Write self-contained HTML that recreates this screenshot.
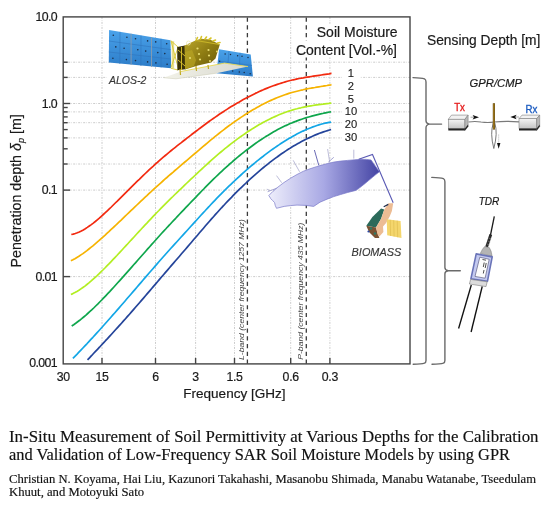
<!DOCTYPE html>
<html><head><meta charset="utf-8"><title>Soil permittivity graphical abstract</title>
<style>html,body{margin:0;padding:0;background:#fff;}body{width:550px;height:507px;overflow:hidden;font-family:"Liberation Sans",sans-serif;}svg{display:block;}</style>
</head><body><div style="will-change:transform;width:550px;height:507px;background:#fff">
<svg width="550" height="507" viewBox="0 0 550 507"><rect x="0" y="0" width="550" height="507" fill="#fff"/>
<g stroke="#cccccc" stroke-width="1" stroke-dasharray="2 1.2 0.6 1.2"><line x1="63.2" y1="62.2" x2="410.0" y2="62.2"/><line x1="63.2" y1="77.4" x2="410.0" y2="77.4"/><line x1="63.2" y1="103.5" x2="410.0" y2="103.5"/><line x1="63.2" y1="111.9" x2="410.0" y2="111.9"/><line x1="63.2" y1="122.7" x2="410.0" y2="122.7"/><line x1="63.2" y1="137.9" x2="410.0" y2="137.9"/><line x1="63.2" y1="164.0" x2="410.0" y2="164.0"/><line x1="63.2" y1="190.1" x2="410.0" y2="190.1"/><line x1="63.2" y1="276.6" x2="410.0" y2="276.6"/><line x1="102.0" y1="16.9" x2="102.0" y2="363.9"/><line x1="155.5" y1="16.9" x2="155.5" y2="363.9"/><line x1="195.6" y1="16.9" x2="195.6" y2="363.9"/><line x1="234.5" y1="16.9" x2="234.5" y2="363.9"/><line x1="290.7" y1="16.9" x2="290.7" y2="363.9"/><line x1="329.9" y1="16.9" x2="329.9" y2="363.9"/></g>
<rect x="237.8" y="218.5" width="8.6" height="140.5" fill="#fff"/><rect x="296.6" y="220.5" width="8.7" height="138.5" fill="#fff"/>
<g stroke="#3a3a3a" stroke-width="1.3" stroke-dasharray="4.2 3.574"><line x1="247.4" y1="17.5" x2="247.4" y2="363.9"/><line x1="306.3" y1="17.5" x2="306.3" y2="363.9"/></g>
<text transform="translate(243.8,360) rotate(-90)" font-family="Liberation Sans, sans-serif" font-style="italic" font-size="8.1" fill="#454545" textLength="140.9" lengthAdjust="spacingAndGlyphs">L-band (center frequency 1257 MHz)</text>
<text transform="translate(302.7,359.8) rotate(-90)" font-family="Liberation Sans, sans-serif" font-style="italic" font-size="8.1" fill="#454545" textLength="137.2" lengthAdjust="spacingAndGlyphs">P-band (center frequency 435 MHz)</text>

<defs>
<linearGradient id="gpan" x1="0" y1="0" x2="0" y2="1"><stop offset="0" stop-color="#4aa2ea"/><stop offset="1" stop-color="#2c7cc8"/></linearGradient>
<linearGradient id="gbody" x1="0" y1="0" x2="1" y2="1"><stop offset="0" stop-color="#bca82a"/><stop offset="0.5" stop-color="#8e7c12"/><stop offset="1" stop-color="#66560a"/></linearGradient>
<linearGradient id="gplate" x1="0" y1="0" x2="1" y2="0"><stop offset="0" stop-color="#f2f2e8"/><stop offset="1" stop-color="#d8d8d0"/></linearGradient>
<linearGradient id="gant" x1="0" y1="0" x2="1" y2="0"><stop offset="0" stop-color="#eeeefb"/><stop offset="0.5" stop-color="#a8a8e4"/><stop offset="1" stop-color="#4444a4"/></linearGradient>
<linearGradient id="gbox" x1="0" y1="0" x2="0" y2="1"><stop offset="0" stop-color="#f4f4f4"/><stop offset="1" stop-color="#c4c4c4"/></linearGradient>
<linearGradient id="gtdr" x1="0" y1="0" x2="1" y2="0"><stop offset="0" stop-color="#8090d0"/><stop offset="1" stop-color="#b8c0e8"/></linearGradient>
</defs>
<polygon points="109.1,30.1 170.5,40.3 171.2,68.3 108.8,62.5" fill="url(#gpan)"/>
<g stroke="#2f74bc" stroke-width="0.6" fill="none">
<line x1="108.9" y1="41" x2="170.7" y2="49.6"/><line x1="108.8" y1="52" x2="170.9" y2="59"/>
<line x1="120" y1="31.8" x2="119.8" y2="64"/><line x1="141" y1="35.6" x2="140.9" y2="66"/><line x1="161" y1="38.8" x2="161.1" y2="67.5"/>
</g>
<g stroke="#8a9cae" stroke-width="0.9"><line x1="131.1" y1="33.7" x2="131.1" y2="65"/><line x1="151.5" y1="37.3" x2="151.5" y2="66.9"/></g>
<g fill="#1c2c44"><circle cx="113.3" cy="35.2" r="0.8"/><circle cx="126.9" cy="37.3" r="0.8"/><circle cx="135.5" cy="38.7" r="0.8"/><circle cx="147.6" cy="40.9" r="0.8"/><circle cx="155.7" cy="41.9" r="0.8"/><circle cx="166.7" cy="43.8" r="0.8"/><circle cx="115.8" cy="46.9" r="0.8"/><circle cx="124.1" cy="48.2" r="0.8"/><circle cx="137.8" cy="49.8" r="0.8"/><circle cx="145.7" cy="51.1" r="0.8"/><circle cx="157.8" cy="52.6" r="0.8"/><circle cx="164.8" cy="53.6" r="0.8"/><circle cx="112.9" cy="58.3" r="0.8"/><circle cx="126.4" cy="59.6" r="0.8"/><circle cx="135.5" cy="60.6" r="0.8"/><circle cx="147.6" cy="61.9" r="0.8"/><circle cx="155.9" cy="62.9" r="0.8"/><circle cx="167.1" cy="64.2" r="0.8"/></g>
<polygon points="219.1,49.2 250.7,54.6 252.9,76.5 216.4,73.2" fill="url(#gpan)"/>
<g stroke="#2f74bc" stroke-width="0.6"><line x1="229" y1="51" x2="227" y2="74"/><line x1="240" y1="52.8" x2="239" y2="75"/><line x1="218" y1="61" x2="252" y2="65.5"/></g>
<g fill="#1c2c44"><circle cx="225.1" cy="54.1" r="0.75"/><circle cx="230.5" cy="54.6" r="0.75"/><circle cx="237.6" cy="55.7" r="0.75"/><circle cx="242" cy="56.3" r="0.75"/><circle cx="248" cy="57.4" r="0.75"/><circle cx="232.7" cy="71" r="0.75"/><circle cx="239.3" cy="72.1" r="0.75"/><circle cx="244.2" cy="72.6" r="0.75"/><circle cx="250.2" cy="73.7" r="0.75"/><circle cx="219.6" cy="61.2" r="0.75"/></g>
<rect x="171.2" y="41" width="3.2" height="27.5" fill="#f4f0d8"/>
<g stroke="#d8c830" stroke-width="0.9" fill="none"><path d="M170.8,40.6 L178,47 M171,68.3 L178,70 M171,41 L178.5,69 M171,67.5 L178,47.5 M173,41.5 L173,68"/></g>
<polygon points="177.2,47 185,45.4 185.3,69.2 177.4,70.3" fill="#3a3208"/>
<polygon points="184.5,45.5 190,43 196,40.2 201,38.8 210,39.5 219.8,44.5 215.5,58.5 211,62.5 198,65.5 185,69.5" fill="url(#gbody)"/>
<polygon points="185,52 192,50 196,60 194,66 185,69.2" fill="#b8a424" opacity="0.7"/>
<g fill="#e8dc70"><circle cx="197.5" cy="48.5" r="1.1"/><circle cx="208.5" cy="50" r="1.1"/><circle cx="199" cy="54" r="1.1"/><circle cx="209" cy="55.5" r="1.1"/><circle cx="190" cy="58" r="1.1"/><circle cx="200" cy="59.5" r="1.1"/><circle cx="210" cy="61" r="1"/><circle cx="217" cy="51.5" r="1"/></g>
<path d="M196,40.5 L197.5,37.5 M200.5,39 L201.5,36.5 M205,39 L206.5,37 M209,39.5 L211,38 M213,41 L215.5,40 M217.5,43 L220,42.5" stroke="#d8c428" stroke-width="1.6" stroke-linecap="round"/>
<path d="M196,40.5 L219.5,44.5" stroke="#c8b428" stroke-width="1.2"/>
<circle cx="188.5" cy="43" r="2" fill="none" stroke="#efe8b0" stroke-width="0.8"/>
<path d="M181.5,47 L181.5,70 M178,60 L185,66 M178,50 L185,56" stroke="#d0b828" stroke-width="1"/>
<polygon points="163.6,77.7 181,71.5 224.5,63.1 248,66.6 216.4,73.2 176,78.8" fill="url(#gplate)"/>
<path d="M181,71.5 L224.5,63.1 L248,66.6" stroke="#e8d850" stroke-width="0.9" fill="none"/>
<path d="M163.6,77.7 L176,78.8 L216.4,73.2" stroke="#c8c8b0" stroke-width="0.5" fill="none"/>
<g stroke="#c0a820" stroke-width="1.2"><line x1="180" y1="69" x2="180.5" y2="75"/><line x1="196" y1="66" x2="196.5" y2="71"/><line x1="208" y1="65" x2="208.5" y2="69"/></g>
<rect x="106.5" y="72.5" width="44" height="14" fill="#fff"/>
<text x="109" y="83.8" font-family="Liberation Sans, sans-serif" font-style="italic" font-size="11" fill="#383838" stroke="#383838" stroke-width="0.15" textLength="37.3" lengthAdjust="spacingAndGlyphs">ALOS-2</text>


<g stroke="#a0a0c8" stroke-width="0.7">
<line x1="314.4" y1="150" x2="318.8" y2="165.4" stroke="#6a6ab4" stroke-width="1"/>
<line x1="293.2" y1="160.3" x2="299.6" y2="171.8"/>
<line x1="276.5" y1="175.6" x2="281.7" y2="182.7"/>
<line x1="353.8" y1="149.7" x2="353.8" y2="158.6"/>
<line x1="327.6" y1="149" x2="329.7" y2="162.1"/>
<line x1="328.3" y1="162.1" x2="333.8" y2="157.3" stroke="#8080c0"/>
<line x1="267.6" y1="191.7" x2="277.8" y2="187.8" stroke="#8080c0"/>
<line x1="266.9" y1="189.1" x2="269.5" y2="190.5"/>
</g>
<path d="M268.8,195.5 L273,191.3 L277.8,187.2 L284,182.5 L290.6,178.2 L297,174.5 L303.5,171.2 L310,168.8 L316.3,166.7 L320,165.6 L327,163.7 L333.8,162.1 L340.5,161.1 L347.6,160.4 L354.5,159.8 L361.4,159.3 L366.5,159.4 L371.1,160 L375.3,165.9 L379.4,171.8 L375.8,174.6 L372.5,177.3 L368.3,180.8 L364.2,184.2 L360,187.5 L355.9,190.4 L347.6,192.5 L340.7,194.5 L333.8,196.6 L327,199.2 L320,202.2 L313.7,206.4 L306,205.4 L297,205.1 L290.5,205.6 L284.2,206.4 L276.5,208.3 L275.2,205.3 L274.6,202.6 L272.6,200.5 L270.8,198.7 Z" fill="url(#gant)" stroke="#7878c8" stroke-width="0.7" stroke-linejoin="round"/>
<path d="M358.7,159.3 L372.5,154.5 L393.2,202.8" stroke="#5a5ab4" stroke-width="1.1" fill="none"/>
<polygon points="381.1,208.4 384.3,209.5 381.1,218.8 376,227.5 366.3,225.8 372.4,217.1" fill="#2b6a5a"/>
<polygon points="366.3,225.8 376,227.5 378,234.5 379.4,238 375,238 369,232" fill="#7a5232"/>
<g fill="#2e7a66"><circle cx="371" cy="228.5" r="1.3"/><circle cx="375" cy="233.5" r="1.2"/></g>
<polygon points="388.5,203.3 393.2,203.2 391.9,211 389.8,216.2 385.9,223.2 383,226.6 383.4,232 379.4,236.4 377.6,234.5 376,227.5 381.1,218.8 384.3,209.5" fill="#ecbc94"/>
<path d="M383.7,206.7 L388.3,204.4" stroke="#1e2a48" stroke-width="1.2"/>
<polygon points="386.7,219.3 400.6,221 401.5,237.9 387.2,235.3" fill="#f4d66c"/>
<g stroke="#dcb84c" stroke-width="0.6"><line x1="390.2" y1="219.8" x2="390.6" y2="236"/><line x1="393.7" y1="220.2" x2="394.1" y2="236.6"/><line x1="397.2" y1="220.6" x2="397.7" y2="237.3"/></g>
<circle cx="368.5" cy="231.5" r="1.1" fill="#2848a8"/>
<text x="351.6" y="256.3" font-family="Liberation Sans, sans-serif" font-style="italic" font-size="11.3" fill="#383838" stroke="#383838" stroke-width="0.15" textLength="49.6" lengthAdjust="spacingAndGlyphs">BIOMASS</text>

<path d="M71.3,234.5 L73.3,234.1 L75.3,233.5 L77.3,232.8 L79.3,232.0 L81.3,231.0 L83.3,229.9 L85.3,228.7 L87.3,227.4 L89.3,226.0 L91.3,224.6 L93.3,223.1 L95.3,221.5 L97.3,219.8 L99.3,218.1 L101.3,216.3 L103.3,214.5 L105.3,212.7 L107.3,210.8 L109.3,208.9 L111.3,207.0 L113.3,205.0 L115.3,203.0 L117.3,201.1 L119.3,199.1 L121.3,197.1 L123.3,195.1 L125.3,193.1 L127.3,191.1 L129.3,189.1 L131.3,187.1 L133.3,185.1 L135.3,183.2 L137.3,181.2 L139.3,179.3 L141.3,177.3 L143.3,175.4 L145.3,173.5 L147.3,171.6 L149.3,169.7 L151.3,167.9 L153.3,166.1 L155.3,164.2 L157.3,162.5 L159.3,160.7 L161.3,158.9 L163.3,157.2 L165.3,155.5 L167.3,153.8 L169.3,152.2 L171.3,150.5 L173.3,148.9 L175.3,147.3 L177.3,145.7 L179.3,144.1 L181.3,142.6 L183.3,141.0 L185.3,139.5 L187.3,137.9 L189.3,136.4 L191.3,134.8 L193.3,133.3 L195.3,131.8 L197.3,130.3 L199.3,128.7 L201.3,127.2 L203.3,125.7 L205.3,124.3 L207.3,122.8 L209.3,121.3 L211.3,119.9 L213.3,118.5 L215.3,117.1 L217.3,115.7 L219.3,114.3 L221.3,113.0 L223.3,111.7 L225.3,110.4 L227.3,109.1 L229.3,107.8 L231.3,106.6 L233.3,105.4 L235.3,104.2 L237.3,103.0 L239.3,101.9 L241.3,100.7 L243.3,99.6 L245.3,98.5 L247.3,97.5 L249.3,96.4 L251.3,95.4 L253.3,94.4 L255.3,93.4 L257.3,92.5 L259.3,91.5 L261.3,90.6 L263.3,89.8 L265.3,88.9 L267.3,88.1 L269.3,87.3 L271.3,86.5 L273.3,85.8 L275.3,85.1 L277.3,84.4 L279.3,83.7 L281.3,83.1 L283.3,82.5 L285.3,81.9 L287.3,81.3 L289.3,80.8 L291.3,80.3 L293.3,79.8 L295.3,79.4 L297.3,78.9 L299.3,78.5 L301.3,78.1 L303.3,77.8 L305.3,77.4 L307.3,77.1 L309.3,76.8 L311.3,76.5 L313.3,76.2 L315.3,75.9 L317.3,75.6 L319.3,75.3 L321.3,75.0 L323.3,74.7 L325.3,74.4 L327.3,74.1 L329.3,73.8 L331.3,73.4 L331.5,73.4" fill="none" stroke="#f22a10" stroke-width="1.7" stroke-linecap="butt" stroke-linejoin="round"/>
<path d="M70.9,260.8 L72.9,259.8 L74.9,258.7 L76.9,257.5 L78.9,256.3 L80.9,254.9 L82.9,253.6 L84.9,252.1 L86.9,250.6 L88.9,249.0 L90.9,247.4 L92.9,245.8 L94.9,244.1 L96.9,242.4 L98.9,240.7 L100.9,238.9 L102.9,237.1 L104.9,235.3 L106.9,233.4 L108.9,231.6 L110.9,229.7 L112.9,227.8 L114.9,226.0 L116.9,224.1 L118.9,222.2 L120.9,220.3 L122.9,218.3 L124.9,216.4 L126.9,214.5 L128.9,212.6 L130.9,210.7 L132.9,208.8 L134.9,206.9 L136.9,205.0 L138.9,203.1 L140.9,201.2 L142.9,199.3 L144.9,197.4 L146.9,195.6 L148.9,193.7 L150.9,191.9 L152.9,190.0 L154.9,188.2 L156.9,186.4 L158.9,184.6 L160.9,182.8 L162.9,181.0 L164.9,179.2 L166.9,177.5 L168.9,175.7 L170.9,174.0 L172.9,172.3 L174.9,170.5 L176.9,168.8 L178.9,167.1 L180.9,165.4 L182.9,163.7 L184.9,162.0 L186.9,160.3 L188.9,158.6 L190.9,156.9 L192.9,155.2 L194.9,153.5 L196.9,151.8 L198.9,150.1 L200.9,148.3 L202.9,146.6 L204.9,145.0 L206.9,143.3 L208.9,141.6 L210.9,139.9 L212.9,138.3 L214.9,136.7 L216.9,135.1 L218.9,133.5 L220.9,131.9 L222.9,130.4 L224.9,128.8 L226.9,127.3 L228.9,125.8 L230.9,124.4 L232.9,122.9 L234.9,121.5 L236.9,120.1 L238.9,118.8 L240.9,117.4 L242.9,116.1 L244.9,114.8 L246.9,113.5 L248.9,112.3 L250.9,111.0 L252.9,109.8 L254.9,108.7 L256.9,107.5 L258.9,106.4 L260.9,105.3 L262.9,104.3 L264.9,103.3 L266.9,102.3 L268.9,101.3 L270.9,100.4 L272.9,99.5 L274.9,98.6 L276.9,97.8 L278.9,97.0 L280.9,96.2 L282.9,95.5 L284.9,94.8 L286.9,94.1 L288.9,93.4 L290.9,92.8 L292.9,92.2 L294.9,91.7 L296.9,91.2 L298.9,90.7 L300.9,90.2 L302.9,89.8 L304.9,89.3 L306.9,88.9 L308.9,88.5 L310.9,88.2 L312.9,87.8 L314.9,87.5 L316.9,87.1 L318.9,86.8 L320.9,86.5 L322.9,86.2 L324.9,85.8 L326.9,85.5 L328.9,85.1 L330.9,84.8 L331.5,84.6" fill="none" stroke="#f6b300" stroke-width="1.7" stroke-linecap="butt" stroke-linejoin="round"/>
<path d="M70.9,294.5 L72.9,293.6 L74.9,292.6 L76.9,291.5 L78.9,290.3 L80.9,288.9 L82.9,287.5 L84.9,286.1 L86.9,284.5 L88.9,282.9 L90.9,281.2 L92.9,279.4 L94.9,277.6 L96.9,275.8 L98.9,273.9 L100.9,271.9 L102.9,270.0 L104.9,268.0 L106.9,265.9 L108.9,263.9 L110.9,261.8 L112.9,259.7 L114.9,257.6 L116.9,255.5 L118.9,253.3 L120.9,251.2 L122.9,249.0 L124.9,246.8 L126.9,244.7 L128.9,242.5 L130.9,240.3 L132.9,238.2 L134.9,236.0 L136.9,233.8 L138.9,231.6 L140.9,229.5 L142.9,227.3 L144.9,225.2 L146.9,223.1 L148.9,220.9 L150.9,218.8 L152.9,216.7 L154.9,214.6 L156.9,212.5 L158.9,210.5 L160.9,208.4 L162.9,206.4 L164.9,204.4 L166.9,202.4 L168.9,200.4 L170.9,198.4 L172.9,196.5 L174.9,194.5 L176.9,192.6 L178.9,190.7 L180.9,188.8 L182.9,186.9 L184.9,184.9 L186.9,183.0 L188.9,181.1 L190.9,179.2 L192.9,177.4 L194.9,175.5 L196.9,173.6 L198.9,171.7 L200.9,169.8 L202.9,168.0 L204.9,166.1 L206.9,164.3 L208.9,162.5 L210.9,160.7 L212.9,158.9 L214.9,157.1 L216.9,155.4 L218.9,153.7 L220.9,152.0 L222.9,150.3 L224.9,148.7 L226.9,147.1 L228.9,145.5 L230.9,143.9 L232.9,142.4 L234.9,140.9 L236.9,139.4 L238.9,137.9 L240.9,136.5 L242.9,135.1 L244.9,133.7 L246.9,132.3 L248.9,131.0 L250.9,129.7 L252.9,128.4 L254.9,127.2 L256.9,126.0 L258.9,124.8 L260.9,123.7 L262.9,122.5 L264.9,121.5 L266.9,120.4 L268.9,119.4 L270.9,118.4 L272.9,117.5 L274.9,116.6 L276.9,115.7 L278.9,114.8 L280.9,114.0 L282.9,113.2 L284.9,112.5 L286.9,111.8 L288.9,111.1 L290.9,110.5 L292.9,109.9 L294.9,109.3 L296.9,108.8 L298.9,108.2 L300.9,107.8 L302.9,107.3 L304.9,106.9 L306.9,106.5 L308.9,106.1 L310.9,105.8 L312.9,105.5 L314.9,105.2 L316.9,104.9 L318.9,104.6 L320.9,104.3 L322.9,104.1 L324.9,103.8 L326.9,103.6 L328.9,103.4 L330.9,103.1 L331.3,103.1" fill="none" stroke="#b2ee22" stroke-width="1.7" stroke-linecap="butt" stroke-linejoin="round"/>
<path d="M71.7,326.0 L73.7,324.7 L75.7,323.3 L77.7,321.8 L79.7,320.3 L81.7,318.7 L83.7,317.0 L85.7,315.3 L87.7,313.5 L89.7,311.7 L91.7,309.9 L93.7,308.0 L95.7,306.0 L97.7,304.1 L99.7,302.0 L101.7,300.0 L103.7,297.9 L105.7,295.8 L107.7,293.7 L109.7,291.6 L111.7,289.4 L113.7,287.2 L115.7,285.0 L117.7,282.8 L119.7,280.6 L121.7,278.4 L123.7,276.1 L125.7,273.9 L127.7,271.6 L129.7,269.4 L131.7,267.1 L133.7,264.8 L135.7,262.6 L137.7,260.3 L139.7,258.0 L141.7,255.7 L143.7,253.5 L145.7,251.2 L147.7,248.9 L149.7,246.7 L151.7,244.4 L153.7,242.2 L155.7,240.0 L157.7,237.7 L159.7,235.5 L161.7,233.3 L163.7,231.1 L165.7,229.0 L167.7,226.8 L169.7,224.7 L171.7,222.5 L173.7,220.4 L175.7,218.3 L177.7,216.1 L179.7,214.0 L181.7,211.9 L183.7,209.8 L185.7,207.7 L187.7,205.6 L189.7,203.5 L191.7,201.4 L193.7,199.4 L195.7,197.3 L197.7,195.2 L199.7,193.1 L201.7,191.0 L203.7,189.0 L205.7,186.9 L207.7,184.9 L209.7,182.9 L211.7,180.9 L213.7,178.9 L215.7,177.0 L217.7,175.1 L219.7,173.2 L221.7,171.3 L223.7,169.4 L225.7,167.6 L227.7,165.8 L229.7,164.0 L231.7,162.3 L233.7,160.5 L235.7,158.8 L237.7,157.2 L239.7,155.5 L241.7,153.9 L243.7,152.3 L245.7,150.7 L247.7,149.2 L249.7,147.7 L251.7,146.2 L253.7,144.7 L255.7,143.3 L257.7,141.9 L259.7,140.5 L261.7,139.2 L263.7,137.9 L265.7,136.6 L267.7,135.4 L269.7,134.2 L271.7,133.0 L273.7,131.8 L275.7,130.7 L277.7,129.6 L279.7,128.6 L281.7,127.6 L283.7,126.6 L285.7,125.6 L287.7,124.7 L289.7,123.8 L291.7,123.0 L293.7,122.1 L295.7,121.4 L297.7,120.6 L299.7,119.9 L301.7,119.2 L303.7,118.5 L305.7,117.9 L307.7,117.3 L309.7,116.7 L311.7,116.1 L313.7,115.6 L315.7,115.1 L317.7,114.6 L319.7,114.1 L321.7,113.7 L323.7,113.2 L325.7,112.8 L327.7,112.4 L329.7,112.0 L331.1,111.8" fill="none" stroke="#0ea64c" stroke-width="1.7" stroke-linecap="butt" stroke-linejoin="round"/>
<path d="M72.9,358.3 L74.9,356.3 L76.9,354.3 L78.9,352.2 L80.9,350.1 L82.9,348.0 L84.9,345.9 L86.9,343.8 L88.9,341.6 L90.9,339.4 L92.9,337.3 L94.9,335.1 L96.9,332.9 L98.9,330.7 L100.9,328.5 L102.9,326.2 L104.9,324.0 L106.9,321.7 L108.9,319.5 L110.9,317.2 L112.9,314.9 L114.9,312.7 L116.9,310.4 L118.9,308.1 L120.9,305.8 L122.9,303.5 L124.9,301.2 L126.9,298.8 L128.9,296.5 L130.9,294.2 L132.9,291.9 L134.9,289.6 L136.9,287.2 L138.9,284.9 L140.9,282.6 L142.9,280.3 L144.9,277.9 L146.9,275.6 L148.9,273.3 L150.9,271.0 L152.9,268.7 L154.9,266.4 L156.9,264.1 L158.9,261.8 L160.9,259.5 L162.9,257.3 L164.9,255.0 L166.9,252.8 L168.9,250.5 L170.9,248.3 L172.9,246.1 L174.9,243.9 L176.9,241.7 L178.9,239.5 L180.9,237.3 L182.9,235.1 L184.9,232.9 L186.9,230.7 L188.9,228.5 L190.9,226.3 L192.9,224.1 L194.9,221.9 L196.9,219.7 L198.9,217.5 L200.9,215.3 L202.9,213.1 L204.9,211.0 L206.9,208.8 L208.9,206.7 L210.9,204.5 L212.9,202.4 L214.9,200.3 L216.9,198.2 L218.9,196.2 L220.9,194.2 L222.9,192.1 L224.9,190.2 L226.9,188.2 L228.9,186.2 L230.9,184.3 L232.9,182.4 L234.9,180.5 L236.9,178.7 L238.9,176.8 L240.9,175.0 L242.9,173.2 L244.9,171.4 L246.9,169.7 L248.9,167.9 L250.9,166.2 L252.9,164.5 L254.9,162.9 L256.9,161.2 L258.9,159.6 L260.9,158.0 L262.9,156.5 L264.9,154.9 L266.9,153.4 L268.9,151.9 L270.9,150.4 L272.9,149.0 L274.9,147.6 L276.9,146.2 L278.9,144.9 L280.9,143.5 L282.9,142.2 L284.9,141.0 L286.9,139.8 L288.9,138.6 L290.9,137.4 L292.9,136.3 L294.9,135.2 L296.9,134.1 L298.9,133.1 L300.9,132.1 L302.9,131.1 L304.9,130.2 L306.9,129.3 L308.9,128.5 L310.9,127.7 L312.9,126.9 L314.9,126.2 L316.9,125.5 L318.9,124.9 L320.9,124.3 L322.9,123.7 L324.9,123.2 L326.9,122.8 L328.9,122.4 L330.9,122.1 L331.1,122.0" fill="none" stroke="#12a6e6" stroke-width="1.7" stroke-linecap="butt" stroke-linejoin="round"/>
<path d="M87.5,359.9 L89.5,357.8 L91.5,355.7 L93.5,353.5 L95.5,351.4 L97.5,349.3 L99.5,347.2 L101.5,345.0 L103.5,342.9 L105.5,340.7 L107.5,338.6 L109.5,336.4 L111.5,334.2 L113.5,332.0 L115.5,329.8 L117.5,327.6 L119.5,325.4 L121.5,323.2 L123.5,320.9 L125.5,318.7 L127.5,316.4 L129.5,314.2 L131.5,311.9 L133.5,309.6 L135.5,307.3 L137.5,305.0 L139.5,302.7 L141.5,300.4 L143.5,298.1 L145.5,295.7 L147.5,293.4 L149.5,291.1 L151.5,288.7 L153.5,286.4 L155.5,284.1 L157.5,281.7 L159.5,279.4 L161.5,277.0 L163.5,274.7 L165.5,272.4 L167.5,270.1 L169.5,267.7 L171.5,265.4 L173.5,263.1 L175.5,260.8 L177.5,258.5 L179.5,256.2 L181.5,253.8 L183.5,251.5 L185.5,249.2 L187.5,246.9 L189.5,244.5 L191.5,242.2 L193.5,239.8 L195.5,237.5 L197.5,235.2 L199.5,232.8 L201.5,230.5 L203.5,228.2 L205.5,225.8 L207.5,223.5 L209.5,221.2 L211.5,218.9 L213.5,216.7 L215.5,214.4 L217.5,212.2 L219.5,210.0 L221.5,207.8 L223.5,205.7 L225.5,203.5 L227.5,201.4 L229.5,199.3 L231.5,197.3 L233.5,195.2 L235.5,193.2 L237.5,191.2 L239.5,189.2 L241.5,187.3 L243.5,185.4 L245.5,183.5 L247.5,181.6 L249.5,179.7 L251.5,177.9 L253.5,176.1 L255.5,174.3 L257.5,172.6 L259.5,170.9 L261.5,169.2 L263.5,167.5 L265.5,165.9 L267.5,164.3 L269.5,162.7 L271.5,161.1 L273.5,159.6 L275.5,158.1 L277.5,156.7 L279.5,155.2 L281.5,153.8 L283.5,152.5 L285.5,151.1 L287.5,149.8 L289.5,148.6 L291.5,147.3 L293.5,146.1 L295.5,144.9 L297.5,143.8 L299.5,142.7 L301.5,141.6 L303.5,140.5 L305.5,139.5 L307.5,138.5 L309.5,137.6 L311.5,136.7 L313.5,135.8 L315.5,134.9 L317.5,134.1 L319.5,133.3 L321.5,132.6 L323.5,131.9 L325.5,131.2 L327.5,130.6 L329.5,130.0 L331.1,129.5" fill="none" stroke="#24449a" stroke-width="1.7" stroke-linecap="butt" stroke-linejoin="round"/>
<g stroke="#444" stroke-width="1.4"><rect x="63.2" y="16.9" width="346.8" height="347.0" fill="none" stroke="#444" stroke-width="1.4"/><line x1="63.2" y1="103.5" x2="70.2" y2="103.5"/><line x1="63.2" y1="190.1" x2="70.2" y2="190.1"/><line x1="63.2" y1="276.6" x2="70.2" y2="276.6"/><line x1="63.2" y1="62.2" x2="67.7" y2="62.2"/><line x1="63.2" y1="77.4" x2="67.7" y2="77.4"/><line x1="63.2" y1="107.5" x2="67.7" y2="107.5"/><line x1="63.2" y1="111.9" x2="67.7" y2="111.9"/><line x1="63.2" y1="116.9" x2="67.7" y2="116.9"/><line x1="63.2" y1="122.7" x2="67.7" y2="122.7"/><line x1="63.2" y1="129.6" x2="67.7" y2="129.6"/><line x1="63.2" y1="137.9" x2="67.7" y2="137.9"/><line x1="63.2" y1="148.8" x2="67.7" y2="148.8"/><line x1="63.2" y1="164.0" x2="67.7" y2="164.0"/><line x1="102.0" y1="363.9" x2="102.0" y2="357.9"/><line x1="155.5" y1="363.9" x2="155.5" y2="357.9"/><line x1="195.6" y1="363.9" x2="195.6" y2="357.9"/><line x1="234.5" y1="363.9" x2="234.5" y2="357.9"/><line x1="290.7" y1="363.9" x2="290.7" y2="357.9"/><line x1="329.9" y1="363.9" x2="329.9" y2="357.9"/></g>
<g font-family="Liberation Sans, sans-serif" font-size="12.3" fill="#1a1a1a" stroke="#1a1a1a" stroke-width="0.2"><text x="57" y="21.3" text-anchor="end" letter-spacing="-0.6">10.0</text><text x="57" y="107.8" text-anchor="end" letter-spacing="-0.6">1.0</text><text x="57" y="194.4" text-anchor="end" letter-spacing="-0.6">0.1</text><text x="57" y="280.9" text-anchor="end" letter-spacing="-0.6">0.01</text><text x="57" y="367.4" text-anchor="end" letter-spacing="-0.6">0.001</text><text x="63.3" y="380.5" text-anchor="middle" letter-spacing="-0.3">30</text><text x="102.0" y="380.5" text-anchor="middle" letter-spacing="-0.3">15</text><text x="155.5" y="380.5" text-anchor="middle" letter-spacing="-0.3">6</text><text x="195.6" y="380.5" text-anchor="middle" letter-spacing="-0.3">3</text><text x="234.5" y="380.5" text-anchor="middle" letter-spacing="-0.3">1.5</text><text x="290.7" y="380.5" text-anchor="middle" letter-spacing="-0.3">0.6</text><text x="329.9" y="380.5" text-anchor="middle" letter-spacing="-0.3">0.3</text></g>
<text x="183.3" y="397.7" font-family="Liberation Sans, sans-serif" font-size="13.5" fill="#1a1a1a" stroke="#1a1a1a" stroke-width="0.2" textLength="102.2" lengthAdjust="spacingAndGlyphs">Frequency [GHz]</text>
<text transform="translate(21.3,267.5) rotate(-90)" font-family="Liberation Sans, sans-serif" font-size="14" fill="#1a1a1a" stroke="#1a1a1a" stroke-width="0.2" textLength="153.3" lengthAdjust="spacingAndGlyphs">Penetration depth <tspan font-style="italic">δ</tspan><tspan font-style="italic" font-size="9" dy="2.5">p</tspan><tspan dy="-2.5"> [m]</tspan></text>
<rect x="313" y="24" width="88" height="16.5" fill="#fff"/><rect x="293" y="41" width="108" height="16.5" fill="#fff"/>
<text x="316.8" y="36.8" font-family="Liberation Sans, sans-serif" font-size="14" fill="#1a1a1a" stroke="#1a1a1a" stroke-width="0.2" textLength="80.8" lengthAdjust="spacingAndGlyphs">Soil Moisture</text>
<text x="296" y="55" font-family="Liberation Sans, sans-serif" font-size="14" fill="#1a1a1a" stroke="#1a1a1a" stroke-width="0.2" textLength="101" lengthAdjust="spacingAndGlyphs">Content [Vol.-%]</text>
<rect x="343" y="66" width="17" height="76" fill="#fff"/>
<g font-family="Liberation Sans, sans-serif" font-size="11.2" fill="#1a1a1a" stroke="#1a1a1a" stroke-width="0.12"><text x="350.9" y="77.0" text-anchor="middle">1</text><text x="350.9" y="89.9" text-anchor="middle">2</text><text x="350.9" y="102.6" text-anchor="middle">5</text><text x="350.9" y="115.2" text-anchor="middle">10</text><text x="350.9" y="128.2" text-anchor="middle">20</text><text x="350.9" y="140.9" text-anchor="middle">30</text></g>

<text x="427" y="45.4" font-family="Liberation Sans, sans-serif" font-size="14" fill="#1a1a1a" stroke="#1a1a1a" stroke-width="0.2" textLength="113.3" lengthAdjust="spacingAndGlyphs">Sensing Depth [m]</text>
<g stroke="#6a6a6a" stroke-width="1.4" fill="none" stroke-linecap="round">
<path d="M413,77.6 Q421.5,77.8 424.5,78.9 Q426,79.6 426,82 L426,120.6 Q426,123.7 429.6,124.1 L441.6,124.1 M429.6,124.1 Q426,124.6 426,127.8 L426,360.5 Q426,362.6 424.5,363.2 Q421.5,364.2 413.2,364.2"/>
<path d="M431.8,177.4 Q440.5,177.6 443.4,178.7 Q444.9,179.4 444.9,181.8 L444.9,267.6 Q444.9,270.3 448.3,270.7 L460.3,270.7 M448.3,270.7 Q444.9,271.1 444.9,273.8 L444.9,360.5 Q444.9,362.6 443.4,363.2 Q440.5,364.2 432,364.2"/>
</g>
<text x="469.6" y="87" font-family="Liberation Sans, sans-serif" font-style="italic" font-size="11" fill="#1a1a1a" stroke="#1a1a1a" stroke-width="0.2" textLength="52.4" lengthAdjust="spacingAndGlyphs">GPR/CMP</text>
<text x="454.2" y="111.2" font-family="Liberation Sans, sans-serif" font-size="11" fill="#e41c1c" stroke="#e41c1c" stroke-width="0.35" textLength="10.8" lengthAdjust="spacingAndGlyphs">Tx</text>
<text x="525.5" y="112.6" font-family="Liberation Sans, sans-serif" font-size="11" fill="#1c5cc0" stroke="#1c5cc0" stroke-width="0.35" textLength="11.9" lengthAdjust="spacingAndGlyphs">Rx</text>
<path d="M468.5,122 Q475,121 481,122 Q488,123 494,122 Q505,121 519,121.8" stroke="#7a7a7a" stroke-width="1.2" fill="none"/>
<g>
<polygon points="448.3,119.3 451.5,115.1 468.1,115.1 464.9,119.3" fill="#f2f2f2" stroke="#808080" stroke-width="0.6"/>
<rect x="448.3" y="119.3" width="16.6" height="9.4" fill="url(#gbox)" stroke="#808080" stroke-width="0.6"/>
<polygon points="464.9,119.3 468.1,115.1 468.1,126.6 464.9,130.5" fill="#b8b8b8" stroke="#808080" stroke-width="0.6"/>
<rect x="448.3" y="128.5" width="16.6" height="2" fill="#222"/>
<polygon points="464.9,128.5 468.1,124.6 468.1,126.6 464.9,130.5" fill="#222"/>
</g>
<g>
<polygon points="519,118.7 522,115.1 539.7,115.1 536.7,118.7" fill="#f2f2f2" stroke="#808080" stroke-width="0.6"/>
<rect x="519" y="118.7" width="17.7" height="9.8" fill="url(#gbox)" stroke="#808080" stroke-width="0.6"/>
<polygon points="536.7,118.7 539.7,115.1 539.7,126.6 536.7,130.5" fill="#b8b8b8" stroke="#808080" stroke-width="0.6"/>
<rect x="519" y="128.5" width="17.7" height="2" fill="#222"/>
<polygon points="536.7,128.5 539.7,124.6 539.7,126.6 536.7,130.5" fill="#222"/>
</g>
<line x1="470.5" y1="117.2" x2="474" y2="117.2" stroke="#999" stroke-width="0.8"/>
<polygon points="472.6,114.9 479,117.2 472.6,119.5 474,117.2" fill="#111"/>
<line x1="515" y1="117" x2="519" y2="117" stroke="#999" stroke-width="0.8"/>
<polygon points="516.6,114.8 510.3,117 516.6,119.2 515.2,117" fill="#111"/>
<path d="M493.3,123 Q489.8,133 493.8,148.5 Q498,133 494.8,123" fill="#fff" stroke="#6a6a6a" stroke-width="0.9"/>
<line x1="493.9" y1="103.3" x2="493.9" y2="129.5" stroke="#4a3a10" stroke-width="2.2"/>
<line x1="493.9" y1="103.6" x2="493.9" y2="129.2" stroke="#b08420" stroke-width="1.3"/>
<line x1="498.7" y1="134.6" x2="498.7" y2="143" stroke="#aaa" stroke-width="0.9" stroke-dasharray="1 1"/>
<polygon points="497,143 500.4,143 498.7,148.8" fill="#111"/>
<text x="478.7" y="205.1" font-family="Liberation Sans, sans-serif" font-style="italic" font-size="11" fill="#1a1a1a" stroke="#1a1a1a" stroke-width="0.2" textLength="20.7" lengthAdjust="spacingAndGlyphs">TDR</text>
<path d="M494.3,216.3 L490.3,236" stroke="#1a1a1a" stroke-width="1.3"/>
<path d="M490.8,234.5 L486.6,247" stroke="#2a2a2a" stroke-width="2.8"/>
<g stroke="#888" stroke-width="0.6"><line x1="488.3" y1="238" x2="491.2" y2="238.8"/><line x1="487.5" y1="241" x2="490.3" y2="241.8"/><line x1="486.8" y1="244" x2="489.5" y2="244.8"/></g>
<path d="M480.2,253.6 Q482.3,248.8 484.6,246.6 L489.3,247.6 Q491.5,250.6 492.1,256.2 Z" fill="#b4b4b4" stroke="#777" stroke-width="0.5"/>
<polygon points="476.2,253.9 492.2,256.9 487.5,281.2 470.9,278.8" fill="#c4caf0" stroke="#6a74b8" stroke-width="1.6" stroke-linejoin="round"/>
<polygon points="479.8,257.2 489.2,259.3 485.1,278.2 475,276.4" fill="#fcfcfc" stroke="#4a4a70" stroke-width="0.6"/>
<g stroke="#222" stroke-width="0.8"><line x1="484.2" y1="262.5" x2="483.3" y2="267"/><line x1="486.2" y1="263" x2="485.2" y2="268"/><line x1="484" y1="270" x2="483.3" y2="273.5"/><line x1="482.5" y1="259.5" x2="486" y2="260.2"/></g>
<polygon points="470.6,279.4 487.2,281.8 486,286.6 469.4,284" fill="#dcdcdc" stroke="#7a7a7a" stroke-width="0.6"/>
<g stroke="#111" stroke-width="1.35"><line x1="471.3" y1="285" x2="458.6" y2="328.5"/><line x1="482.2" y1="286.5" x2="471.1" y2="332"/></g>


<g font-family="Liberation Serif, serif" fill="#111" stroke="#111" stroke-width="0.15">
<text transform="translate(9,441.7) scale(1,1.055)" x="0" y="0" font-size="15.8" textLength="529.5" lengthAdjust="spacingAndGlyphs">In-Situ Measurement of Soil Permittivity at Various Depths for the Calibration</text>
<text transform="translate(9,459.8) scale(1,1.055)" x="0" y="0" font-size="15.8" textLength="501" lengthAdjust="spacingAndGlyphs">and Validation of Low-Frequency SAR Soil Moisture Models by using GPR</text>
<text x="9" y="483.2" font-size="12" textLength="527" lengthAdjust="spacingAndGlyphs">Christian N. Koyama, Hai Liu, Kazunori Takahashi, Masanobu Shimada, Manabu Watanabe, Tseedulam</text>
<text x="9" y="496.3" font-size="12" textLength="135" lengthAdjust="spacingAndGlyphs">Khuut, and Motoyuki Sato</text>
</g></svg>
</div></body></html>
